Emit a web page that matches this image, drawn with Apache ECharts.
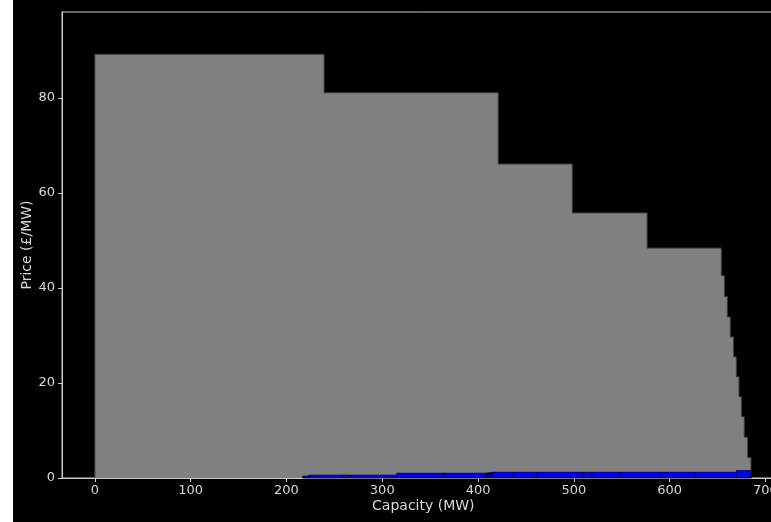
<!DOCTYPE html>
<html>
<head>
<meta charset="utf-8">
<script src="https://cdn.jsdelivr.net/npm/echarts@6/dist/echarts.min.js"></script>
<style>
  html, body { margin: 0; padding: 0; background: #000; overflow: hidden; }
  #chart {
    width: 785px; height: 522px;
    background: linear-gradient(to right, #fff 13px, #000 13px);
  }
</style>
</head>
<body>
<div id="chart"></div>
<script>
// Offer stack: block capacities (MW) and prices (£/MW), stacked left to right
const offerCapacity = [239.3, 181.7, 77.4, 78.1, 77.5, 3.3, 2.9, 3.1, 3.4, 2.9, 2.8, 2.7, 2.8, 3.5, 3.5];
const offerPrice    = [89.2, 81.1, 66.1, 55.8, 48.4, 42.6, 38.2, 33.9, 29.7, 25.5, 21.3, 17.1, 12.9, 8.6, 4.3];

// Bid stack: starts part-way along the capacity axis
const bidStart    = 217.0;
const bidCapacity = [6.3, 35.1, 7.3, 2.5, 47.0, 49.1, 43.9, 2.1, 2.4, 2.1, 22.3, 24.4, 48.1, 9.3, 28.9, 42.9, 35.6, 43.5, 15.4];
const bidPrice    = [0.4, 0.6, 0.6, 0.6, 0.6, 1.0, 1.0, 1.05, 1.1, 1.1, 1.2, 1.2, 1.2, 1.2, 1.2, 1.2, 1.2, 1.2, 1.55];

// Axis ticks
const xTicks = [0, 100, 200, 300, 400, 500, 600, 700];
const yTicks = [0, 20, 40, 60, 80];

// Build [start, width, price, previousPrice, isLast] blocks from cumulative capacity
function blocks(start, widths, prices) {
  const out = [];
  let x = start;
  for (let i = 0; i < widths.length; i++) {
    out.push([x, widths[i], prices[i], i > 0 ? prices[i - 1] : 0, i === widths.length - 1 ? 1 : 0]);
    x += widths[i];
  }
  return out;
}

// Offer blocks: plain fill plus a thin step outline along the top of the stack.
// Each block after the first reaches 1px back under its taller neighbour so no seam shows.
function offerRenderer(params, api) {
  const x0 = api.value(0), w = api.value(1), h = api.value(2);
  const prev = api.value(3), last = api.value(4);
  const p0 = api.coord([x0, h]);
  const p1 = api.coord([x0 + w, 0]);
  const pPrev = api.coord([x0, prev]);
  const back = params.dataIndex > 0 ? 1 : 0;
  const pts = [[p0[0], pPrev[1]], [p0[0], p0[1]], [p1[0], p0[1]]];
  if (last) pts.push([p1[0], p1[1]]);
  return {
    type: 'group',
    children: [
      {
        type: 'rect',
        shape: { x: p0[0] - back, y: p0[1], width: p1[0] - p0[0] + back, height: p1[1] - p0[1] },
        style: { fill: '#808080' }
      },
      {
        type: 'polyline',
        shape: { points: pts },
        style: { fill: null, stroke: '#3c3c3c', lineWidth: 1 }
      }
    ]
  };
}

// Bid blocks: blue fill with black edges
function bidRenderer(params, api) {
  const x0 = api.value(0), w = api.value(1), h = api.value(2);
  const p0 = api.coord([x0, h]);
  const p1 = api.coord([x0 + w, 0]);
  return {
    type: 'rect',
    shape: { x: p0[0], y: p0[1], width: p1[0] - p0[0], height: p1[1] - p0[1] },
    style: { fill: '#0000ff', stroke: '#000000', lineWidth: 0.8 }
  };
}

const textColor = '#d8d8d8';
const lineColor = '#cccccc';
const font = 'DejaVu Sans';

const chart = echarts.init(document.getElementById('chart'), null, { renderer: 'canvas' });
chart.setOption({
  backgroundColor: 'transparent',
  animation: false,
  grid: {
    left: 62, top: 12, bottom: 44, right: 0.4,
    show: true, borderColor: lineColor, borderWidth: 1, backgroundColor: '#000'
  },
  xAxis: {
    type: 'value',
    min: -34.3, max: 720,
    name: 'Capacity (MW)',
    nameLocation: 'middle',
    nameGap: 21,
    nameMoveOverlap: false,
    nameTextStyle: { color: textColor, fontSize: 14, fontFamily: font },
    axisLine: { show: true, onZero: false, lineStyle: { color: lineColor, width: 1 } },
    axisTick: { show: true, length: 4, customValues: xTicks, lineStyle: { color: lineColor } },
    axisLabel: { color: textColor, fontSize: 13, fontFamily: font, margin: 6, customValues: xTicks },
    splitLine: { show: false }
  },
  yAxis: {
    type: 'value',
    min: 0, max: 98.1,
    name: 'Price (£/MW)',
    nameLocation: 'middle',
    nameGap: 28,
    nameMoveOverlap: false,
    nameTextStyle: { color: textColor, fontSize: 14, fontFamily: font },
    axisLine: { show: true, onZero: false, lineStyle: { color: lineColor, width: 1 } },
    axisTick: { show: true, length: 4, customValues: yTicks, lineStyle: { color: lineColor } },
    axisLabel: { color: textColor, fontSize: 13, fontFamily: font, margin: 7, customValues: yTicks },
    splitLine: { show: false }
  },
  series: [
    {
      type: 'custom',
      name: 'Offers',
      renderItem: offerRenderer,
      encode: { x: [0], y: [2] },
      data: blocks(0, offerCapacity, offerPrice),
      z: 2
    },
    {
      type: 'custom',
      name: 'Bids',
      renderItem: bidRenderer,
      encode: { x: [0], y: [2] },
      data: blocks(bidStart, bidCapacity, bidPrice),
      z: 3
    }
  ]
});
</script>
</body>
</html>
